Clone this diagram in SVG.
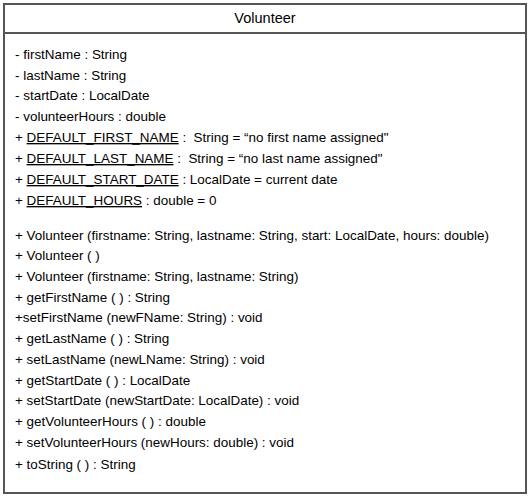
<svg xmlns="http://www.w3.org/2000/svg" width="530" height="498" viewBox="0 0 530 498">
<style>
text{font-family:"Liberation Sans",Arial,sans-serif;font-size:13.45px;fill:#000;white-space:pre}
.t{font-size:14.5px}
.u{text-decoration:underline}
.box{fill:#fff;stroke:#555;stroke-width:2}
</style>
<rect width="530" height="498" fill="#fff"/>
<g id="Volunteer">
<rect class="box" x="4" y="4" width="522" height="489"/>
<line x1="4" y1="33" x2="526" y2="33" stroke="#555" stroke-width="2"/>
<text class="t" x="265" y="23" text-anchor="middle">Volunteer</text>
<text x="15" y="59">- firstName : String</text>
<text x="15" y="80">- lastName : String</text>
<text x="15" y="100">- startDate : LocalDate</text>
<text x="15" y="121">- volunteerHours : double</text>
<text x="15" y="142" xml:space="preserve">+ <tspan class="u">DEFAULT_FIRST_NAME</tspan> :  String = “no first name assigned"</text>
<text x="15" y="163" xml:space="preserve">+ <tspan class="u">DEFAULT_LAST_NAME</tspan> :  String = “no last name assigned"</text>
<text x="15" y="184">+ <tspan class="u">DEFAULT_START_DATE</tspan> : LocalDate = current date</text>
<text x="15" y="205">+ <tspan class="u">DEFAULT_HOURS</tspan> : double = 0</text>
<text x="15" y="240">+ Volunteer (firstname: String, lastname: String, start: LocalDate, hours: double)</text>
<text x="15" y="260">+ Volunteer ( )</text>
<text x="15" y="281">+ Volunteer (firstname: String, lastname: String)</text>
<text x="15" y="302">+ getFirstName ( ) : String</text>
<text x="15" y="322">+setFirstName (newFName: String) : void</text>
<text x="15" y="343">+ getLastName ( ) : String</text>
<text x="15" y="364">+ setLastName (newLName: String) : void</text>
<text x="15" y="385">+ getStartDate ( ) : LocalDate</text>
<text x="15" y="405">+ setStartDate (newStartDate: LocalDate) : void</text>
<text x="15" y="426">+ getVolunteerHours ( ) : double</text>
<text x="15" y="447">+ setVolunteerHours (newHours: double) : void</text>
<text x="15" y="469">+ toString ( ) : String</text>
</g>
</svg>
